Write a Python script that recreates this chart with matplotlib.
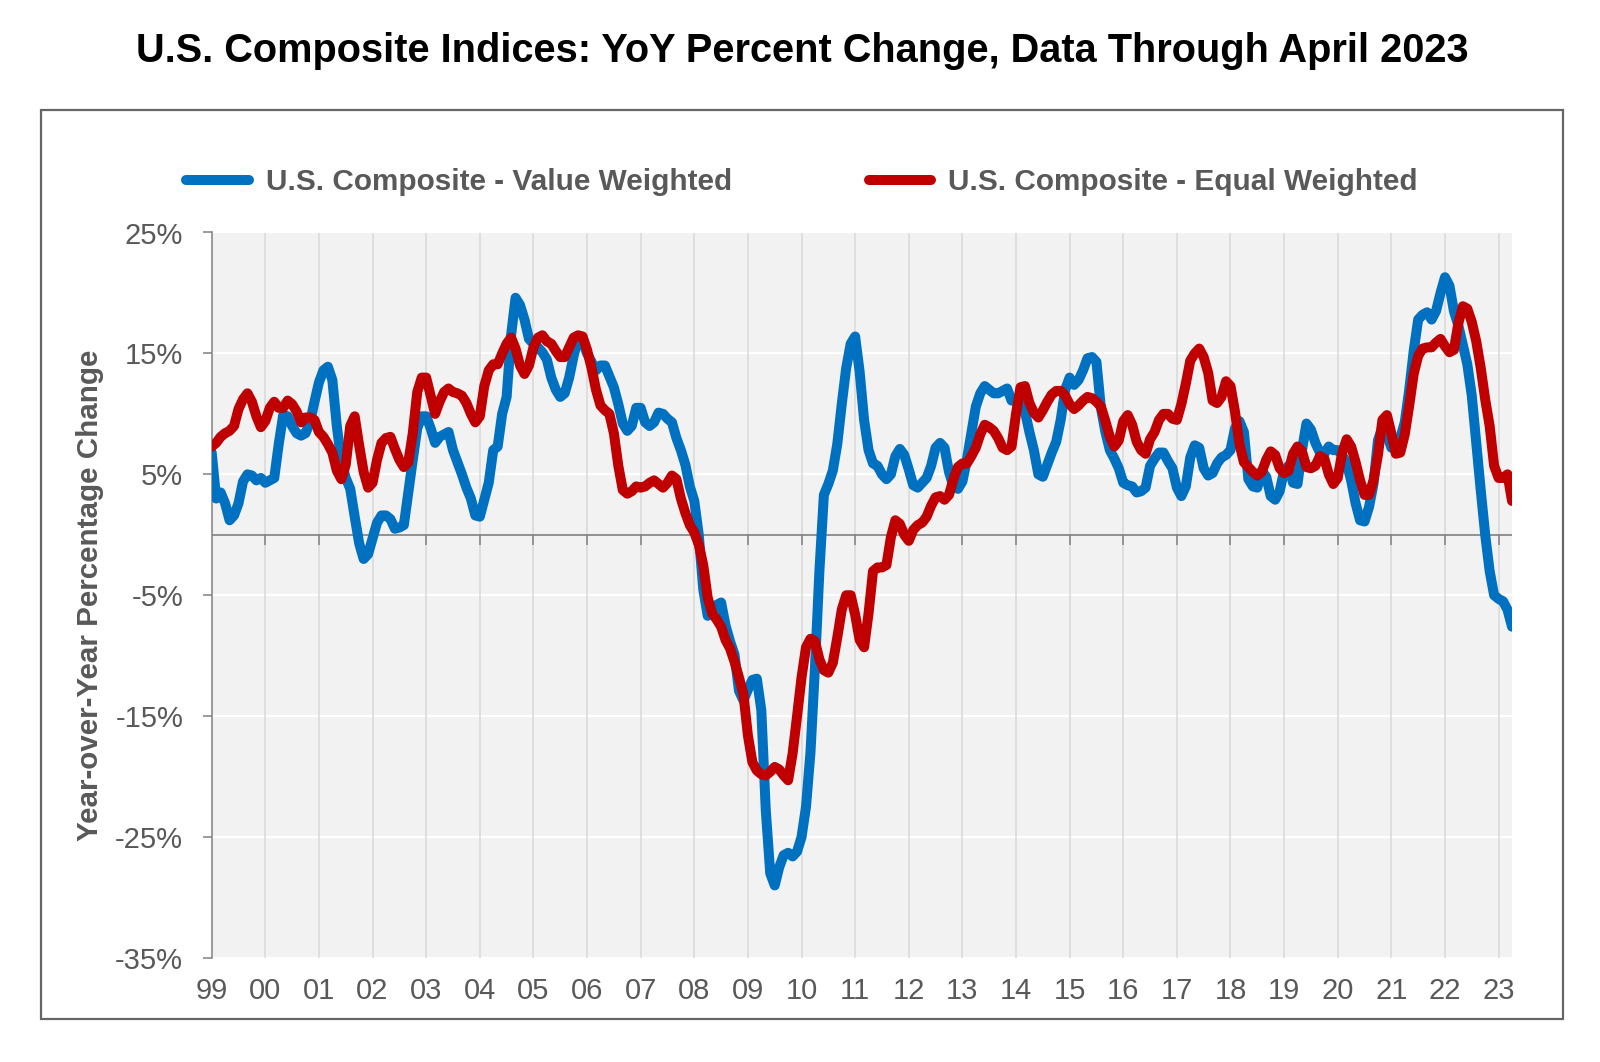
import matplotlib
matplotlib.use("Agg")
import matplotlib.pyplot as plt
from matplotlib.patches import Rectangle
import numpy as np

# Monthly YoY % change, Jan 1999 - Apr 2023
value_weighted = [
    6.8, 3.0, 3.5, 2.6, 1.2, 1.6, 2.6, 4.4, 5.0, 4.9, 4.5, 4.7,        # 1999
    4.3, 4.5, 4.7, 7.5, 9.9, 9.8, 9.0, 8.4, 8.2, 8.4, 9.3, 11.0,       # 2000
    12.6, 13.6, 13.9, 12.8, 9.0, 6.1, 4.7, 3.8, 1.5, -0.7, -2.0, -1.6, # 2001
    -0.3, 1.0, 1.6, 1.6, 1.3, 0.5, 0.6, 0.8, 3.5, 6.2, 8.8, 9.8,       # 2002
    9.8, 8.8, 7.6, 8.1, 8.3, 8.5, 7.0, 6.0, 5.0, 3.9, 3.0, 1.6,        # 2003
    1.5, 2.9, 4.3, 7.0, 7.3, 10.0, 11.4, 16.5, 19.6, 19.0, 17.8, 16.2, # 2004
    15.8, 15.5, 15.1, 14.5, 13.0, 12.0, 11.4, 11.7, 13.0, 14.8, 16.3, 16.0,  # 2005
    15.0, 14.3, 13.6, 14.0, 14.0, 13.1, 12.2, 10.8, 9.2, 8.6, 9.0, 10.5,     # 2006
    10.5, 9.3, 9.0, 9.3, 10.1, 10.0, 9.6, 9.3, 8.0, 7.0, 5.8, 4.0,           # 2007
    2.8, 0.0, -4.5, -6.7, -6.3, -5.8, -5.6, -7.5, -8.8, -9.9, -12.9, -13.7,  # 2008
    -12.8, -12.0, -11.9, -14.5, -22.8, -28.0, -29.0, -27.5, -26.5, -26.3, -26.6, -26.2,  # 2009
    -25.0, -22.5, -18.0, -11.0, -3.0, 3.3, 4.2, 5.3, 7.5, 10.8, 13.8, 15.8,  # 2010
    16.4, 13.5, 9.5, 7.0, 5.9, 5.7, 5.0, 4.6, 5.0, 6.5, 7.1, 6.6,            # 2011
    5.4, 4.1, 3.9, 4.3, 4.7, 5.7, 7.2, 7.6, 7.2, 5.2, 4.0, 3.8,              # 2012
    4.4, 6.2, 8.4, 10.6, 11.7, 12.3, 12.0, 11.7, 11.7, 11.9, 12.1, 11.1,     # 2013
    11.1, 11.1, 10.2, 8.5, 7.0, 5.0, 4.8, 5.8, 6.8, 7.7, 9.5, 12.0,          # 2014
    13.0, 12.4, 12.8, 13.6, 14.6, 14.7, 14.3, 10.5, 8.5, 7.0, 6.3, 5.5,      # 2015
    4.3, 4.1, 4.0, 3.5, 3.6, 3.9, 5.7, 6.3, 6.8, 6.8, 6.1, 5.5,              # 2016
    3.9, 3.2, 4.0, 6.4, 7.4, 7.2, 5.5, 4.9, 5.1, 5.9, 6.4, 6.6,              # 2017
    7.0, 8.8, 9.4, 8.5, 4.6, 4.0, 3.9, 5.3, 4.8, 3.2, 2.9, 3.6,              # 2018
    5.3, 5.7, 4.3, 4.2, 7.0, 9.2, 8.7, 7.6, 6.8, 6.7, 7.3, 7.0,              # 2019
    7.0, 6.6, 5.9, 4.5, 2.6, 1.2, 1.1, 2.3, 4.2, 7.8, 8.9, 8.3,              # 2020
    7.2, 7.5, 8.0, 9.3, 12.0, 15.2, 17.8, 18.2, 18.4, 17.8, 18.5, 20.0,      # 2021
    21.3, 20.6, 18.5, 17.3, 15.7, 14.1, 11.5, 7.6, 3.7, 0.0, -3.0, -5.0,     # 2022
    -5.3, -5.5, -6.2, -7.6,                                                   # 2023
]

equal_weighted = [
    7.3, 7.6, 8.1, 8.4, 8.6, 9.0, 10.4, 11.2, 11.7, 11.0, 9.8, 8.9,          # 1999
    9.4, 10.5, 11.0, 10.5, 10.5, 11.1, 10.8, 10.2, 9.3, 9.7, 9.7, 9.5,       # 2000
    8.5, 8.1, 7.5, 6.8, 5.3, 4.6, 5.8, 9.0, 9.8, 7.4, 5.2, 3.9,              # 2001
    4.3, 6.2, 7.6, 8.0, 8.1, 7.1, 6.2, 5.6, 6.0, 8.4, 11.8, 13.0,            # 2002
    13.0, 11.5, 10.0, 11.0, 11.8, 12.1, 11.8, 11.7, 11.5, 10.9, 10.0, 9.3,   # 2003
    9.8, 12.3, 13.6, 14.1, 14.1, 15.0, 15.8, 16.3, 15.4, 14.0, 13.3, 14.0,   # 2004
    15.5, 16.3, 16.5, 16.0, 15.8, 15.2, 14.7, 14.7, 15.5, 16.3, 16.5, 16.4,  # 2005
    15.3, 13.8, 12.0, 10.7, 10.3, 10.0, 8.4, 5.7, 3.7, 3.4, 3.6, 4.0,        # 2006
    3.9, 4.0, 4.3, 4.5, 4.2, 3.9, 4.3, 4.9, 4.6, 3.0, 1.8, 0.8,              # 2007
    0.2, -0.8, -2.5, -5.2, -6.5, -7.0, -7.6, -8.7, -9.4, -10.5, -11.8, -13.2,  # 2008
    -16.6, -18.8, -19.5, -19.8, -19.9, -19.6, -19.2, -19.4, -19.9, -20.3, -18.1, -15.0,  # 2009
    -11.8, -9.3, -8.6, -8.8, -10.3, -11.2, -11.4, -10.6, -8.5, -6.2, -5.0, -5.0,  # 2010
    -6.6, -8.7, -9.3, -6.5, -3.0, -2.7, -2.7, -2.5, -0.2, 1.2, 0.9, 0.0,     # 2011
    -0.5, 0.4, 0.8, 1.0, 1.5, 2.4, 3.1, 3.2, 2.9, 3.3, 4.6, 5.6,             # 2012
    5.9, 5.9, 6.5, 7.2, 8.3, 9.1, 8.9, 8.6, 8.0, 7.2, 7.0, 7.3,              # 2013
    10.0, 12.2, 12.3, 10.9, 10.1, 9.7, 10.3, 11.0, 11.6, 11.9, 11.9, 11.5,   # 2014
    10.8, 10.4, 10.7, 11.1, 11.4, 11.3, 11.0, 10.6, 9.4, 8.1, 7.3, 7.8,      # 2015
    9.4, 9.9, 9.1, 7.7, 7.0, 6.7, 7.9, 8.5, 9.5, 10.0, 10.0, 9.6,            # 2016
    9.5, 10.8, 12.5, 14.4, 15.0, 15.4, 14.7, 13.4, 11.1, 10.9, 11.4, 12.7,   # 2017
    12.3, 10.2, 7.5, 6.0, 5.6, 5.2, 4.9, 5.2, 6.2, 6.9, 6.6, 5.5,            # 2018
    5.1, 5.3, 6.7, 7.3, 6.9, 5.6, 5.5, 5.7, 6.5, 6.3, 5.0, 4.2,              # 2019
    4.7, 6.8, 7.9, 7.3, 6.0, 4.5, 3.3, 3.3, 4.5, 6.6, 9.5, 9.9,              # 2020
    8.4, 6.7, 6.8, 8.3, 10.7, 13.3, 14.8, 15.4, 15.5, 15.5, 15.9, 16.2,      # 2021
    15.6, 15.1, 15.3, 17.5, 18.9, 18.7, 17.6, 16.0, 13.8, 11.2, 9.0, 5.7,    # 2022
    4.7, 4.7, 5.0, 2.8,                                                       # 2023
]

year_labels = ['99', '00', '01', '02', '03', '04', '05', '06', '07', '08', '09', '10',
               '11', '12', '13', '14', '15', '16', '17', '18', '19', '20', '21', '22', '23']
y_ticks = [-35, -25, -15, -5, 5, 15, 25]
y_tick_labels = ['-35%', '-25%', '-15%', '-5%', '5%', '15%', '25%']
series_names = ['U.S. Composite - Value Weighted', 'U.S. Composite - Equal Weighted']
title = 'U.S. Composite Indices: YoY Percent Change, Data Through April 2023'
y_label = 'Year-over-Year Percentage Change'

plt.rcParams['font.family'] = ['Liberation Sans', 'DejaVu Sans']

W, H = 1600, 1062
fig = plt.figure(figsize=(W / 100, H / 100), dpi=100)

# outer frame
fig.patches.append(Rectangle((41 / W, 1 - 1019 / H), (1563 - 41) / W, (1019 - 110) / H,
                             transform=fig.transFigure, fill=False,
                             edgecolor='#666666', linewidth=1.6))

left, right, top, bottom = 211.7, 1512.0, 232.5, 958.0
ax = fig.add_axes([left / W, 1 - bottom / H, (right - left) / W, (bottom - top) / H])
ax.set_facecolor('#F2F2F2')

n = len(value_weighted)
months = np.arange(n)
year_pos = np.arange(len(year_labels)) * 12

ax.set_xlim(0, n - 1)
ax.set_ylim(-35, 25)

# grid
for yv in y_ticks:
    ax.axhline(yv, color='white', linewidth=1.6, zorder=1)
for xp in year_pos[1:]:
    ax.axvline(xp, color='#D9D9D9', linewidth=1.1, zorder=1.5)
ax.axhline(0, color='#808080', linewidth=1.2, zorder=2)
ax.vlines(year_pos[1:], -0.83, 0, color='#808080', linewidth=1.1, zorder=2)

l1, = ax.plot(months, value_weighted, color='#0070C0', linewidth=7.2,
              solid_capstyle='round', solid_joinstyle='round', zorder=3,
              label=series_names[0])
l2, = ax.plot(months, equal_weighted, color='#C00000', linewidth=7.2,
              solid_capstyle='round', solid_joinstyle='round', zorder=4,
              label=series_names[1])

for s in ['top', 'right', 'bottom']:
    ax.spines[s].set_visible(False)
ax.spines['left'].set_color('#808080')
ax.spines['left'].set_linewidth(1.1)

ax.set_yticks(y_ticks)
ax.set_yticklabels(y_tick_labels)
ax.tick_params(axis='y', length=6.5, width=1.1, color='#808080', pad=14,
               labelsize=21, labelcolor='#595959')
ax.set_xticks(year_pos)
ax.set_xticklabels(year_labels)
ax.tick_params(axis='x', length=0, pad=14, labelsize=21, labelcolor='#595959')

fig.text(802 / W, 1 - 61.7 / H, title, ha='center', va='baseline',
         fontsize=28.6, fontweight='bold', color='black')

fig.text(90 / W, 1 - 595 / H, y_label, rotation=90, ha='center', va='center',
         fontsize=21.3, fontweight='bold', color='#595959')

leg = fig.legend(handles=[l1, l2], loc='center', bbox_to_anchor=(802 / W, 1 - 182 / H),
                 ncol=2, frameon=False, fontsize=21.4, handlelength=2.1,
                 handletextpad=0.58, columnspacing=4.6,
                 prop={'weight': 'bold', 'size': 21.4})
for t in leg.get_texts():
    t.set_color('#595959')

fig.savefig('out.png', dpi=100)
